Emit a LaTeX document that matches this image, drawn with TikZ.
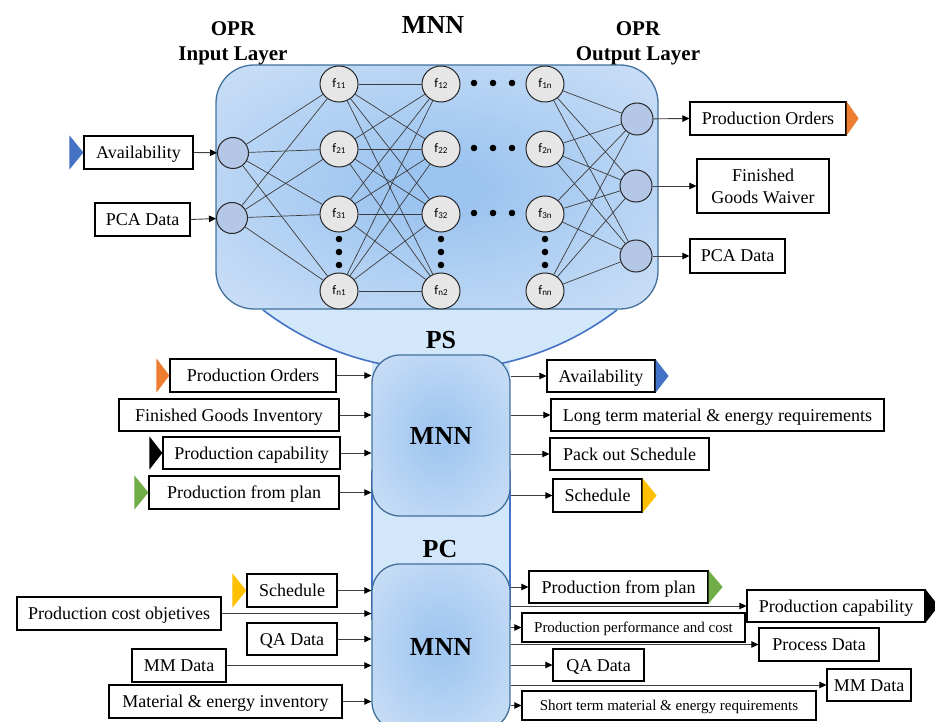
\documentclass[tikz,border=0pt]{standalone}
\usepackage{fontspec}
\setmainfont{Liberation Serif}
\newfontfamily\nnfont{Carlito}
\usetikzlibrary{shapes.geometric,arrows.meta}

\definecolor{panelc}{RGB}{156,196,240}
\definecolor{panele}{RGB}{222,234,249}
\definecolor{boxc}{RGB}{162,199,240}
\definecolor{boxe}{RGB}{220,233,249}
\definecolor{bowlfill}{RGB}{211,231,251}
\definecolor{bowlline}{RGB}{68,114,196}
\definecolor{panelline}{RGB}{65,113,156}
\definecolor{infill}{RGB}{180,199,231}
\definecolor{hidfill}{RGB}{231,230,230}
\definecolor{flagblue}{RGB}{68,114,196}
\definecolor{flagorange}{RGB}{237,125,49}
\definecolor{flaggreen}{RGB}{112,173,71}
\definecolor{flagyellow}{RGB}{255,192,0}
\definecolor{wire}{RGB}{60,60,60}

\pgfdeclareradialshading{panelglow}{\pgfpoint{0bp}{0bp}}{color(0bp)=(panelc);color(5bp)=(panelc);color(47bp)=(panele);color(50bp)=(panele)}
\pgfdeclareradialshading{boxglow}{\pgfpoint{0bp}{0bp}}{color(0bp)=(boxc);color(5bp)=(boxc);color(47bp)=(boxe);color(50bp)=(boxe)}

% hidden-unit label: f with a small index
\newcommand{\fidx}[1]{{\nnfont\fontsize{13}{13}\selectfont f\raisebox{-1pt}{\fontsize{9}{9}\selectfont #1}}}

\begin{document}
\begin{tikzpicture}[x=1pt,y=-1pt,
  panel/.style={rectangle, rounded corners=38pt, shade, shading=panelglow, draw=panelline, line width=1.3pt, inner sep=0pt},
  mnnbox/.style={rectangle, rounded corners=28pt, shade, shading=boxglow, draw=panelline, line width=1.3pt, inner sep=0pt, font=\bfseries\fontsize{26}{26}\selectfont},
  hid/.style={ellipse, draw=black!85, line width=1pt, fill=hidfill, minimum width=38pt, minimum height=36pt, inner sep=0pt},
  neu/.style={circle, draw=black!85, line width=1pt, fill=infill, minimum size=31pt, inner sep=0pt},
  wire/.style={draw=wire, line width=0.7pt},
  box/.style={rectangle, draw=black, line width=1.2pt, fill=white, inner sep=0pt, align=center, font=\fontsize{18}{22}\selectfont, text height=12.5pt, text depth=0.5pt},
  smallbox/.style={box, font=\fontsize{15}{18}\selectfont, text height=10.5pt, text depth=0.5pt},
  heading/.style={inner sep=0pt, align=center, font=\bfseries\fontsize{21}{25}\selectfont},
  bighead/.style={inner sep=0pt, font=\bfseries\fontsize{26}{26}\selectfont},
  arr/.style={draw=black!75, line width=0.9pt, -{Triangle[length=7pt,width=6.5pt,black]}},
  dot/.style={fill=black}
]
\useasboundingbox (0,0) rectangle (935,722);
\clip (0,0) rectangle (935,722);
\fill[white] (0,0) rectangle (935,722);

% ---- bowl and column joining the three networks ----
\fill[bowlfill] plot[domain=127.5:52.5,samples=60] ({440+291*cos(\x)},{79+291*sin(\x)}) -- (617,280) -- (263,280) -- cycle;
\fill[bowlfill] (372,340) rectangle (510,620);
\draw[bowlline, line width=1.6pt] plot[domain=127.5:52.5,samples=60] ({440+291*cos(\x)},{79+291*sin(\x)});
\draw[bowlline, line width=1.5pt] (372,470) -- (372,620) (510,470) -- (510,620);

% ---- OPR network panel ----
\node[panel, minimum width=442pt, minimum height=244pt] (nn) at (437,187) {};

\node[neu] (i1) at (233,153) {};
\node[neu] (i2) at (232,218) {};

\node[hid] (h11) at (339,84)  {\fidx{11}};
\node[hid] (h21) at (339,149) {\fidx{21}};
\node[hid] (h31) at (339,214) {\fidx{31}};
\node[hid] (hn1) at (339,291) {\fidx{n1}};
\node[hid] (h12) at (441,84)  {\fidx{12}};
\node[hid] (h22) at (441,149) {\fidx{22}};
\node[hid] (h32) at (441,214) {\fidx{32}};
\node[hid] (hn2) at (441,291) {\fidx{n2}};
\node[hid] (h1n) at (545,84)  {\fidx{1n}};
\node[hid] (h2n) at (545,149) {\fidx{2n}};
\node[hid] (h3n) at (545,214) {\fidx{3n}};
\node[hid] (hnn) at (545,291) {\fidx{nn}};

\node[neu, minimum size=32pt] (o1) at (637,119) {};
\node[neu, minimum size=32pt] (o2) at (636,186) {};
\node[neu, minimum size=32pt] (o3) at (636,256) {};

\foreach \a in {i1,i2}
  \foreach \b in {h11,h21,h31,hn1}
    \draw[wire] (\a) -- (\b);
\foreach \a in {h11,h21,h31,hn1}
  \foreach \b in {h12,h22,h32,hn2}
    \draw[wire] (\a) -- (\b);
\foreach \a in {h1n,h2n,h3n,hnn}
  \foreach \b in {o1,o2,o3}
    \draw[wire] (\a) -- (\b);

% ellipsis dots
\foreach \y in {83,148,213}
  \foreach \x in {474,493,512}
    \fill[dot] (\x,\y) circle (3.3);
\foreach \x in {339,441,545}
  \foreach \y in {239,252,265}
    \fill[dot] (\x,\y) circle (3.3);

% ---- headings ----
\node[bighead] (ttop) at (433,25) {MNN};
\node[heading] (tin) at (233,43) {OPR\\Input Layer};
\node[heading] (tout) at (638,43) {OPR\\Output Layer};
\node[bighead] (tps) at (441,340) {PS};
\node[bighead] (tpc) at (440,549) {PC};

% ---- PS and PC networks ----
\node[mnnbox, minimum width=138pt, minimum height=161pt] (ps) at (441,435.5) {MNN};
\node[mnnbox, minimum width=138pt, minimum height=166pt] (pc) at (441,647) {MNN};

% ---- data boxes ----
% OPR
\node[box, minimum width=109pt, minimum height=33pt] (avin) at (138.5,152.5) {Availability};
\node[box, minimum width=95pt, minimum height=33pt] (pcain) at (142.5,219.5) {PCA Data};
\node[box, minimum width=156pt, minimum height=33pt] (poout) at (768,118.5) {Production Orders};
\node[box, minimum width=132pt, minimum height=54pt, text height={}, text depth={}] (fgw) at (763,186) {Finished\\Goods Waiver};
\node[box, minimum width=95pt, minimum height=34pt] (pcaout) at (737.5,256) {PCA Data};
% PS inputs
\node[box, minimum width=166pt, minimum height=33pt] (pso) at (253,375.5) {Production Orders};
\node[box, minimum width=220pt, minimum height=32pt] (psf) at (229,415) {Finished Goods Inventory};
\node[box, minimum width=177pt, minimum height=32pt] (psc) at (251.5,453) {Production capability};
\node[box, minimum width=190pt, minimum height=33pt] (psp) at (244,492.5) {Production from plan};
% PS outputs
\node[box, minimum width=108pt, minimum height=32pt] (psa) at (601,376) {Availability};
\node[box, minimum width=333pt, minimum height=32pt] (psl) at (717.5,415) {Long term material \& energy requirements};
\node[box, minimum width=159pt, minimum height=32pt] (psk) at (629.5,454) {Pack out Schedule};
\node[box, minimum width=89pt, minimum height=33pt] (pss) at (597.5,495.5) {Schedule};
% PC inputs
\node[box, minimum width=90pt, minimum height=33pt] (pcs) at (292,590.5) {Schedule};
\node[box, minimum width=204pt, minimum height=33pt] (pcc) at (119,613.5) {Production cost objetives};
\node[box, minimum width=90pt, minimum height=32pt] (pcq) at (292,639) {QA Data};
\node[box, minimum width=94pt, minimum height=33pt] (pcm) at (179,665.5) {MM Data};
\node[box, minimum width=233pt, minimum height=33pt] (pce) at (225.5,701.5) {Material \& energy inventory};
% PC outputs
\node[box, minimum width=179pt, minimum height=32pt] (ocp) at (618.5,587) {Production from plan};
\node[box, minimum width=178pt, minimum height=32pt] (occ) at (836,606) {Production capability};
\node[smallbox, minimum width=223pt, minimum height=29pt] (ocperf) at (633.5,627.5) {Production performance and cost};
\node[box, minimum width=120pt, minimum height=33pt] (ocproc) at (819,644.5) {Process Data};
\node[box, minimum width=91pt, minimum height=32pt] (ocqa) at (598.5,665) {QA Data};
\node[box, minimum width=84pt, minimum height=32pt] (ocmm) at (869,685) {MM Data};
\node[smallbox, minimum width=294pt, minimum height=29pt] (ocst) at (669,705.5) {Short term material \& energy requirements};

% ---- link flags ----
\fill[flagblue] ([xshift=-14pt]avin.north west) -- (avin.west) -- ([xshift=-14pt]avin.south west) -- cycle;
\fill[flagorange] (poout.north east) -- ([xshift=12pt]poout.east) -- (poout.south east) -- cycle;
\fill[flagorange] ([xshift=-13pt]pso.north west) -- (pso.west) -- ([xshift=-13pt]pso.south west) -- cycle;
\fill[black] ([xshift=-13pt]psc.north west) -- (psc.west) -- ([xshift=-13pt]psc.south west) -- cycle;
\fill[flaggreen] ([xshift=-14pt]psp.north west) -- (psp.west) -- ([xshift=-14pt]psp.south west) -- cycle;
\fill[flagblue] (psa.north east) -- ([xshift=13pt]psa.east) -- (psa.south east) -- cycle;
\fill[flagyellow] (pss.north east) -- ([xshift=14pt]pss.east) -- (pss.south east) -- cycle;
\fill[flagyellow] ([xshift=-14pt]pcs.north west) -- (pcs.west) -- ([xshift=-14pt]pcs.south west) -- cycle;
\fill[flaggreen] (ocp.north east) -- ([xshift=14pt]ocp.east) -- (ocp.south east) -- cycle;
\fill[black] (occ.north east) -- ([xshift=13pt]occ.east) -- (occ.south east) -- cycle;

% ---- connectors ----
\draw[arr] (avin.east) -- (i1);
\draw[arr] (pcain.east) -- (i2);
\draw[arr] (o1) -- (poout.west);
\draw[arr] (o2) -- (fgw.west);
\draw[arr] (o3) -- (pcaout.west);

\foreach \n in {pso,psf,psc,psp}
  \draw[arr] (\n.east) -- (\n.east -| ps.west);
\foreach \n in {psa,psl,psk,pss}
  \draw[arr] (\n.west -| ps.east) -- (\n.west);

\foreach \n in {pcs,pcc,pcq,pcm,pce}
  \draw[arr] (\n.east) -- (\n.east -| pc.west);
\foreach \n in {ocp,occ,ocperf,ocproc,ocqa,ocmm,ocst}
  \draw[arr] (\n.west -| pc.east) -- (\n.west);

\end{tikzpicture}
\end{document}
